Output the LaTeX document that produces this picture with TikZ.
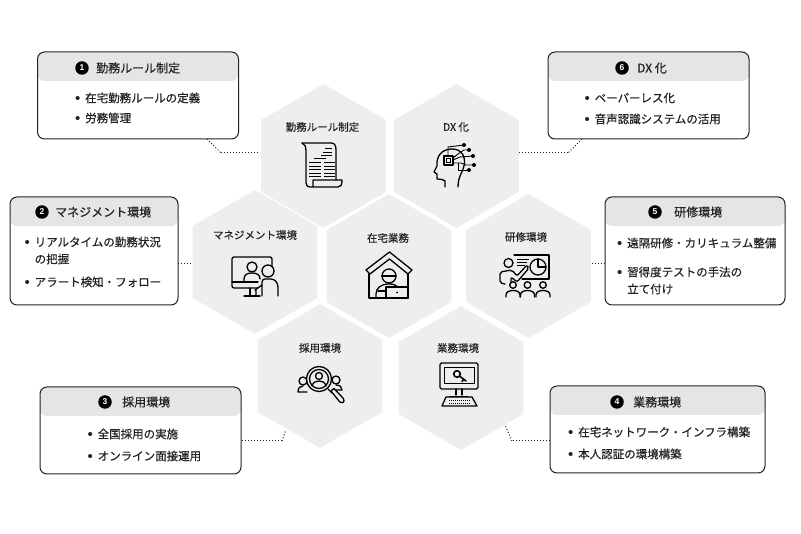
\documentclass[tikz,border=0pt]{standalone}
\usepackage{fontspec}
\usepackage{xcolor}
\usetikzlibrary{shapes.geometric}
\newfontfamily\cjk[FakeBold=0.45]{Noto Sans CJK JP}
\newfontfamily\latn{Liberation Sans}
\newcommand{\bl}{\makebox[9.5pt][l]{\hspace*{-.7pt}\raisebox{-.9pt}{\latn\fontsize{15}{15}\selectfont •}}}
\definecolor{hexgray}{HTML}{EEEEEE}
\definecolor{headgray}{HTML}{E4E5E6}
\definecolor{inkdark}{HTML}{222222}
\begin{document}
\begin{tikzpicture}[x=1pt,y=-1pt,
    hex/.style={regular polygon,regular polygon sides=6,shape border rotate=30,minimum size=144pt,inner sep=0pt,fill=hexgray},
    hexlabel/.style={inner sep=0pt,text=inkdark,font=\cjk\fontsize{10.5}{12}\selectfont},
    card/.style={rectangle,rounded corners=7pt,draw=inkdark,line width=1pt,fill=white,inner sep=0pt,
        path picture={\fill[headgray] (path picture bounding box.north west) rectangle ([yshift=-29pt]path picture bounding box.north east);}},
    badge/.style={circle,fill=black,text=white,inner sep=0pt,minimum size=13.5pt,font=\latn\bfseries\fontsize{8.5}{9}\selectfont},
    title/.style={anchor=west,inner sep=0pt,text=inkdark,font=\cjk\fontsize{12}{14}\selectfont},
    body/.style={anchor=west,inner sep=0pt,align=left,text=inkdark,font=\cjk\fontsize{11.5}{17}\selectfont},
    dotline/.style={dotted,line width=1pt,inkdark},
    ico/.style={draw=black,line width=1.3pt,line cap=round,line join=round},
    thin ico/.style={draw=black,line width=.9pt}]

    \useasboundingbox (0,0) rectangle (801,534);

    % hexagons
    \node[hex] (h1) at (323.5,156) {};
    \node[hex] (h6) at (456.5,156) {};
    \node[hex] (h2) at (255,262) {};
    \node[hex] (h0) at (389,266) {};
    \node[hex] (h5) at (528.5,266) {};
    \node[hex] (h3) at (320,376) {};
    \node[hex] (h4) at (461,378) {};

    \node[hexlabel] (l1) at (322.5,127) {勤務ルール制定};
    \node[hexlabel] (l6) at (456,127) {DX 化};
    \node[hexlabel] (l2) at (255,235) {マネジメント環境};
    \node[hexlabel] (l0) at (388,238) {在宅業務};
    \node[hexlabel] (l5) at (526,237) {研修環境};
    \node[hexlabel] (l3) at (320,348) {採用環境};
    \node[hexlabel] (l4) at (458,348) {業務環境};

    % cards
    \node[card,minimum width=201pt,minimum height=87pt] (c1) at (138,95.5) {};
    \node[card,minimum width=168pt,minimum height=108pt] (c2) at (94,251) {};
    \node[card,minimum width=201pt,minimum height=87pt] (c3) at (140.5,430.5) {};
    \node[card,minimum width=215pt,minimum height=87pt] (c4) at (657.5,429.5) {};
    \node[card,minimum width=180pt,minimum height=108pt] (c5) at (695,251) {};
    \node[card,minimum width=201pt,minimum height=87pt] (c6) at (648.5,95.5) {};

    \node[badge] (b1) at (82,68) {1};
    \node[title] (t1) at (96,68) {勤務ルール制定};
    \node[badge] (b2) at (42,212) {2};
    \node[title] (t2) at (55,212) {マネジメント環境};
    \node[badge] (b3) at (105,402) {3};
    \node[title] (t3) at (122,402) {採用環境};
    \node[badge] (b4) at (617,402) {4};
    \node[title] (t4) at (633,402) {業務環境};
    \node[badge] (b5) at (655,212) {5};
    \node[title] (t5) at (674,212) {研修環境};
    \node[badge] (b6) at (622,68) {6};
    \node[title] (t6) at (637,68) {DX 化};

    \node[body] (i1a) at (75.5,98) {\bl 在宅勤務ルールの定義};
    \node[body] (i1b) at (75.5,118) {\bl 労務管理};
    \node[body] (i2a) at (25,250.5) {\bl リアルタイムの勤務状況\\\hspace*{9.5pt}の把握};
    \node[body] (i2b) at (25,282) {\bl アラート検知・フォロー};
    \node[body] (i3a) at (88,434) {\bl 全国採用の実施};
    \node[body] (i3b) at (88,456) {\bl オンライン面接運用};
    \node[body] (i4a) at (568.5,432) {\bl 在宅ネットワーク・インフラ構築};
    \node[body] (i4b) at (568.5,454) {\bl 本人認証の環境構築};
    \node[body] (i5a) at (617.5,243) {\bl 遠隔研修・カリキュラム整備};
    \node[body] (i5b) at (617.5,280.5) {\bl 習得度テストの手法の\\\hspace*{9.5pt}立て付け};
    \node[body] (i6a) at (585,98) {\bl ペーパーレス化};
    \node[body] (i6b) at (585,119) {\bl 音声認識システムの活用};

    % connectors
    \coordinate (p1a) at (207,139);
    \coordinate (p1b) at (221,153);
    \coordinate (p1c) at (260,153);
    \coordinate (p6a) at (582,139);
    \coordinate (p6b) at (568,153);
    \coordinate (p6c) at (519,153);
    \coordinate (p2a) at (178,264);
    \coordinate (p2b) at (192,264);
    \coordinate (p5a) at (605,264);
    \coordinate (p5b) at (592,264);
    \coordinate (p3a) at (242,441);
    \coordinate (p3b) at (282,441);
    \coordinate (p3c) at (286,430);
    \coordinate (p4a) at (550,441);
    \coordinate (p4b) at (512,441);
    \coordinate (p4c) at (505,425);
    \path[dotline]
        (p1a) edge (p1b)
        (p1b) edge (p1c)
        (p6a) edge (p6b)
        (p6b) edge (p6c)
        (p2a) edge (p2b)
        (p5a) edge (p5b)
        (p3a) edge (p3b)
        (p3b) edge (p3c)
        (p4a) edge (p4b)
        (p4b) edge (p4c)
    ;

    % icon: scroll
    \draw[ico] (302,143) -- (331,143) .. controls (335,143) and (336,146) .. (336,150) -- (336,180);
    \draw[ico] (302,143) .. controls (305,144) and (306,147) .. (306,150) -- (306,183) .. controls (306,186) and (308,187) .. (310,187) -- (338,187) .. controls (341,187) and (342,185) .. (342,180) -- (313,180) -- (313,187);
    \draw[thin ico] (325,148) -- (332,148) (323,152) -- (332,152) (321,155.5) -- (332,155.5) (314,158.5) -- (326,158.5);
    \foreach \y in {162.5,166,169.5,173,176.5} {
        \draw[thin ico] (309,\y) -- (321,\y) (324,\y) -- (335,\y);
    }

    % icon: head with circuit
    \draw[ico] (445,187) -- (445,181) .. controls (442,179) and (439,179) .. (437,179) -- (437,174) -- (434,172) -- (437,166) .. controls (436,156) and (442,149) .. (452,149) .. controls (462,149) and (466,157) .. (464,166) .. controls (463,172) and (458,176) .. (458,187);
    \draw[ico,fill=hexgray] (444,156) rectangle (453,165);
    \draw[thin ico] (446.5,158.5) rectangle (450.5,162.5);
    \draw[thin ico] (448,156) -- (448,147) -- (464,145);
    \draw[thin ico] (453,158) -- (458,154) -- (464,150) -- (469,150);
    \draw[thin ico] (453,160) -- (460,157) -- (473,156);
    \draw[thin ico] (453,163) -- (461,163) -- (466,165) -- (474,165);
    \draw[thin ico] (458,163) -- (458,170) -- (469,170);
    \foreach \x/\y in {464/145,469/150,473/156,474/165,469/170} {
        \fill[black] (\x,\y) circle (2pt);
    }

    % icon: online meeting
    \draw[ico,rounded corners=2pt] (272,268) -- (272,257) -- (232,257) -- (232,288) -- (258,288);
    \draw[ico] (232,282) -- (258,282);
    \draw[ico] (250,288) -- (250,296) (244,296) -- (260,296);
    \draw[ico] (252,267) circle (5pt);
    \draw[ico] (244,282) -- (244,279) .. controls (244,275) and (247,273) .. (252,273) .. controls (257,273) and (260,275) .. (260,279);
    \draw[ico,fill=hexgray] (268,271) circle (6pt);
    \draw[ico] (262,296) -- (262,285) -- (255,290) (256,296) -- (256,290);
    \draw[ico,rounded corners=3pt] (262,285) -- (262,279) -- (274,279) -- (278,284) -- (278,296);

    % icon: home worker
    \draw[ico] (366,270) -- (389.5,252) -- (412,270) -- (408,274) -- (389.5,259) -- (370,274) -- cycle;
    \draw[ico] (369,274) -- (369,298) -- (408,298) -- (408,274);
    \draw[ico] (389,276) circle (7pt);
    \draw[ico] (382,276) -- (396,276);
    \draw[ico] (376,298) -- (376,294) .. controls (376,288) and (381,284) .. (389,284) .. controls (393,284) and (396,285) .. (398,287);
    \draw[ico,fill=hexgray] (386,287) rectangle (408,298);
    \draw[ico] (378,291) -- (386,291);
    \fill[black] (397,292.5) circle (1pt);

    % icon: lecture
    \draw[ico] (514,255) -- (549,255) -- (549,279) -- (522,279);
    \draw[ico] (538,267) circle (8pt);
    \draw[ico] (538,259) -- (538,267) -- (546,267);
    \draw[thin ico] (517,259) -- (529,259) (517,262) -- (527,262) (517,265) -- (525,265);
    \draw[ico] (508.5,263) circle (4.5pt);
    \draw[ico,rounded corners=2pt] (505,284) -- (500,283) -- (500,272) -- (512,270) -- (517,276) -- (527,265) -- (529,268) -- (517,282) -- (511,277) -- (511,283);
    \foreach \x in {513,527.5,543} {
        \draw[ico] (\x,285) circle (3.3pt);
        \draw[ico] (\x-7,297) -- (\x-7,295) .. controls (\x-7,292) and (\x-4,290.5) .. (\x,290.5) .. controls (\x+4,290.5) and (\x+7,292) .. (\x+7,295) -- (\x+7,297);
    }

    % icon: search people
    \draw[ico] (303,381) circle (4pt);
    \draw[ico] (336,380) circle (4pt);
    \draw[ico] (307,392) -- (298,392) .. controls (298,388) and (300,386) .. (303,386);
    \draw[ico] (332,390) -- (342,390) .. controls (342,387) and (340,385) .. (336,385);
    \draw[ico,fill=hexgray] (319,379) circle (12.5pt);
    \draw[ico] (319,379) circle (9.5pt);
    \draw[ico] (319,376) circle (3.5pt);
    \draw[ico] (312,386) .. controls (313,382) and (316,381) .. (319,381) .. controls (322,381) and (325,382) .. (326,386);
    \draw[ico] (328,389) -- (332,393);
    \draw[ico,fill=hexgray] (331,391) -- (334,388.5) -- (343,398) .. controls (345,400) and (344,402) .. (343,402.5) .. controls (341,403.5) and (340,402) .. (339,401) -- cycle;

    % icon: computer with key
    \draw[ico,rounded corners=1.5pt] (440,363) rectangle (478,389);
    \draw[thin ico] (444,383) -- (444,367) -- (474,367) -- (474,383) -- (444,383);
    \draw[ico,line width=1.6pt] (457,374) circle (3.3pt);
    \draw[ico,line width=1.6pt] (460,376.5) -- (466,381) (463.5,379.5) -- (462,381.5);
    \draw[ico] (456,389) -- (456,395) (462,389) -- (462,395) (450,396.5) -- (468,396.5);
    \draw[ico] (446,397) -- (472,397) -- (477,406) -- (442,406) -- cycle;
    \foreach \y in {400,403} {
        \draw[thin ico,dash pattern=on 1pt off 1pt] (449,\y) -- (470,\y);
    }
\end{tikzpicture}
\end{document}
